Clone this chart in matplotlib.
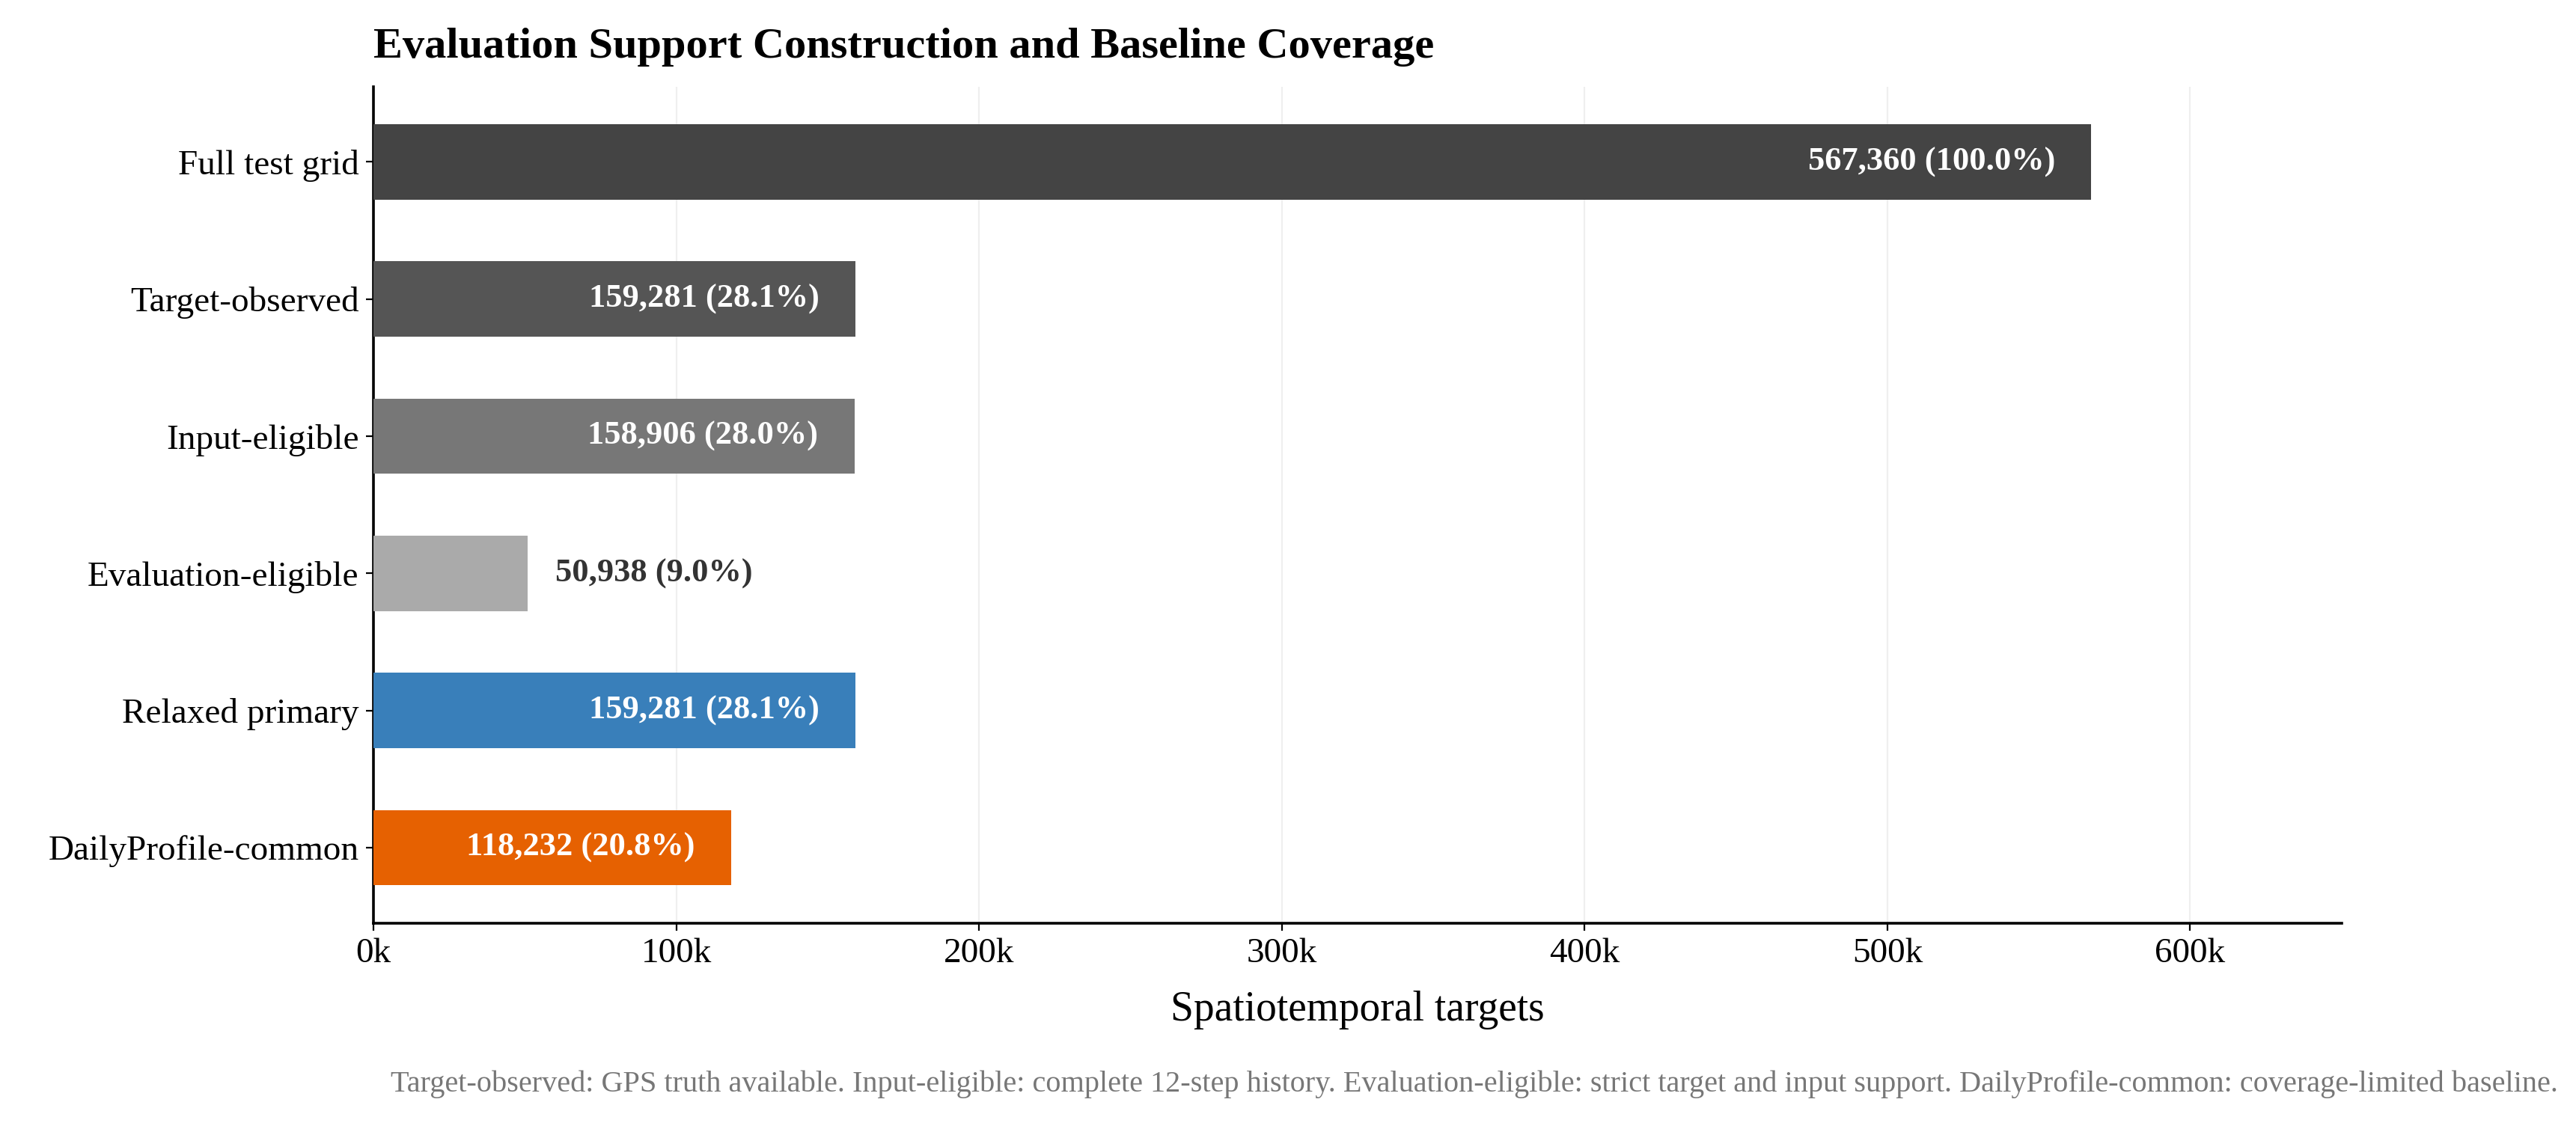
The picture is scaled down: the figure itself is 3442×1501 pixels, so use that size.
import matplotlib
matplotlib.use("Agg")
import matplotlib.pyplot as plt
from matplotlib.ticker import FuncFormatter

plt.rcParams['font.family'] = ['Liberation Serif', 'DejaVu Serif']

# data
categories = ['Full test grid', 'Target-observed', 'Input-eligible',
              'Evaluation-eligible', 'Relaxed primary', 'DailyProfile-common']
counts = [567360, 159281, 158906, 50938, 159281, 118232]
percents = [100.0, 28.1, 28.0, 9.0, 28.1, 20.8]
colors = ['#444444', '#555555', '#777777', '#aaaaaa', '#397fba', '#e66101']
inside = [True, True, True, False, True, True]

fig = plt.figure(figsize=(17.21, 7.505), dpi=200)
ax = fig.add_axes([0.145, 0.178, 0.764, 0.745])

ypos = list(range(len(categories)))[::-1]
ax.barh(ypos, counts, height=0.55, color=colors, zorder=3)

for y, c, p, ins in zip(ypos, counts, percents, inside):
    txt = f'{c:,} ({p:.1f}%)'
    if ins:
        ax.text(c - 12000, y, txt, ha='right', va='center', color='white',
                fontsize=16, fontweight='bold', zorder=4)
    else:
        ax.text(c + 9000, y, txt, ha='left', va='center', color='#333333',
                fontsize=16, fontweight='bold', zorder=4)

ax.set_yticks(ypos)
ax.set_yticklabels(categories, fontsize=17)
ax.set_xlim(0, 650000)
ax.set_ylim(-0.55, 5.55)
ax.set_xticks([0, 100000, 200000, 300000, 400000, 500000, 600000])
ax.xaxis.set_major_formatter(FuncFormatter(lambda v, _: f'{int(v/1000)}k'))
ax.tick_params(axis='x', labelsize=17)
ax.set_xlabel('Spatiotemporal targets', fontsize=20, labelpad=10)
ax.grid(axis='x', color='#efefef', linewidth=0.8, zorder=0)
for s in ['top', 'right']:
    ax.spines[s].set_visible(False)
for s in ['left', 'bottom']:
    ax.spines[s].set_linewidth(1.3)

ax.set_title('Evaluation Support Construction and Baseline Coverage',
             loc='left', fontsize=21, fontweight='bold', pad=14)

fig.text(0.993, 0.022,
         'Target-observed: GPS truth available. Input-eligible: complete 12-step history. '
         'Evaluation-eligible: strict target and input support. DailyProfile-common: coverage-limited baseline.',
         ha='right', va='bottom', fontsize=14.5, color='#777777')

fig.savefig('out.png', dpi=200)
